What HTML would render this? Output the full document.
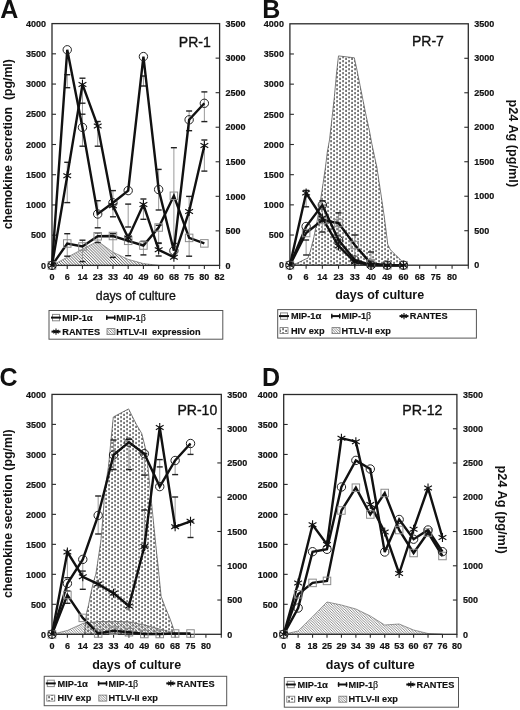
<!DOCTYPE html><html><head><meta charset="utf-8"><style>html,body{margin:0;padding:0;background:#fff;}svg{display:block;font-family:"Liberation Sans", sans-serif;filter:grayscale(1);}</style></head><body>
<svg width="520" height="710" viewBox="0 0 520 710">
<defs><pattern id="hatch" width="2.6" height="2.6" patternUnits="userSpaceOnUse"><path d="M-1,-1L3.6,3.6M-1,1.6L1,3.6M1.6,-1L3.6,1" stroke="#666" stroke-width="0.75" fill="none"/></pattern><pattern id="hatchA" width="2.9" height="2.9" patternUnits="userSpaceOnUse"><path d="M-1,-1L3.9,3.9M-1,1.9L1,3.9M1.9,-1L3.9,1" stroke="#444" stroke-width="0.85" fill="none"/></pattern><pattern id="dots" width="6" height="4" patternUnits="userSpaceOnUse"><rect x="0.4" y="0.1" width="1.3" height="2.2" fill="#3a3a3a"/><rect x="3.4" y="1.8" width="1.3" height="2.2" fill="#3a3a3a"/></pattern></defs>
<rect width="520" height="710" fill="#fff"/>
<polygon points="52,265.4 52,265.4 67.24,257.3 82.47,249.2 97.71,241.2 112.95,252.2 128.18,259.4 143.42,263.6 158.65,265.4 158.65,265.4" fill="url(#hatchA)" stroke="#555" stroke-width="0.6"/>
<line x1="67.24" y1="74.7" x2="67.24" y2="87.7" stroke="#9a9a9a" stroke-width="1"/>
<line x1="64.24" y1="74.7" x2="70.24" y2="74.7" stroke="#222" stroke-width="1.4"/>
<line x1="64.24" y1="87.7" x2="70.24" y2="87.7" stroke="#222" stroke-width="1.4"/>
<line x1="67.24" y1="162.3" x2="67.24" y2="202.6" stroke="#9a9a9a" stroke-width="1"/>
<line x1="64.24" y1="162.3" x2="70.24" y2="162.3" stroke="#222" stroke-width="1.4"/>
<line x1="64.24" y1="202.6" x2="70.24" y2="202.6" stroke="#222" stroke-width="1.4"/>
<line x1="67.24" y1="233.7" x2="67.24" y2="256.2" stroke="#9a9a9a" stroke-width="1"/>
<line x1="64.24" y1="233.7" x2="70.24" y2="233.7" stroke="#222" stroke-width="1.4"/>
<line x1="64.24" y1="256.2" x2="70.24" y2="256.2" stroke="#222" stroke-width="1.4"/>
<line x1="82.47" y1="78.2" x2="82.47" y2="146.2" stroke="#9a9a9a" stroke-width="1"/>
<line x1="79.47" y1="78.2" x2="85.47" y2="78.2" stroke="#222" stroke-width="1.4"/>
<line x1="79.47" y1="103.2" x2="85.47" y2="103.2" stroke="#222" stroke-width="1.4"/>
<line x1="79.47" y1="114.2" x2="85.47" y2="114.2" stroke="#222" stroke-width="1.4"/>
<line x1="79.47" y1="146.2" x2="85.47" y2="146.2" stroke="#222" stroke-width="1.4"/>
<line x1="82.47" y1="240.2" x2="82.47" y2="261.6" stroke="#9a9a9a" stroke-width="1"/>
<line x1="79.47" y1="240.2" x2="85.47" y2="240.2" stroke="#222" stroke-width="1.4"/>
<line x1="79.47" y1="261.6" x2="85.47" y2="261.6" stroke="#222" stroke-width="1.4"/>
<line x1="97.71" y1="121.5" x2="97.71" y2="146.2" stroke="#9a9a9a" stroke-width="1"/>
<line x1="94.71" y1="121.5" x2="100.71" y2="121.5" stroke="#222" stroke-width="1.4"/>
<line x1="94.71" y1="146.2" x2="100.71" y2="146.2" stroke="#222" stroke-width="1.4"/>
<line x1="97.71" y1="200.7" x2="97.71" y2="227.8" stroke="#9a9a9a" stroke-width="1"/>
<line x1="94.71" y1="200.7" x2="100.71" y2="200.7" stroke="#222" stroke-width="1.4"/>
<line x1="94.71" y1="227.8" x2="100.71" y2="227.8" stroke="#222" stroke-width="1.4"/>
<line x1="97.71" y1="232.9" x2="97.71" y2="242.5" stroke="#9a9a9a" stroke-width="1"/>
<line x1="94.71" y1="232.9" x2="100.71" y2="232.9" stroke="#222" stroke-width="1.4"/>
<line x1="94.71" y1="242.5" x2="100.71" y2="242.5" stroke="#222" stroke-width="1.4"/>
<line x1="112.95" y1="190.6" x2="112.95" y2="216.8" stroke="#9a9a9a" stroke-width="1"/>
<line x1="109.95" y1="190.6" x2="115.95" y2="190.6" stroke="#222" stroke-width="1.4"/>
<line x1="109.95" y1="216.8" x2="115.95" y2="216.8" stroke="#222" stroke-width="1.4"/>
<line x1="112.95" y1="233.7" x2="112.95" y2="257.4" stroke="#9a9a9a" stroke-width="1"/>
<line x1="109.95" y1="233.7" x2="115.95" y2="233.7" stroke="#222" stroke-width="1.4"/>
<line x1="109.95" y1="257.4" x2="115.95" y2="257.4" stroke="#222" stroke-width="1.4"/>
<line x1="128.18" y1="204.1" x2="128.18" y2="227" stroke="#9a9a9a" stroke-width="1"/>
<line x1="125.18" y1="204.1" x2="131.18" y2="204.1" stroke="#222" stroke-width="1.4"/>
<line x1="125.18" y1="227" x2="131.18" y2="227" stroke="#222" stroke-width="1.4"/>
<line x1="128.18" y1="238" x2="128.18" y2="255.7" stroke="#9a9a9a" stroke-width="1"/>
<line x1="125.18" y1="238" x2="131.18" y2="238" stroke="#222" stroke-width="1.4"/>
<line x1="125.18" y1="255.7" x2="131.18" y2="255.7" stroke="#222" stroke-width="1.4"/>
<line x1="143.42" y1="76" x2="143.42" y2="86" stroke="#9a9a9a" stroke-width="1"/>
<line x1="140.42" y1="76" x2="146.42" y2="76" stroke="#222" stroke-width="1.4"/>
<line x1="140.42" y1="86" x2="146.42" y2="86" stroke="#222" stroke-width="1.4"/>
<line x1="143.42" y1="199" x2="143.42" y2="219.3" stroke="#9a9a9a" stroke-width="1"/>
<line x1="140.42" y1="199" x2="146.42" y2="199" stroke="#222" stroke-width="1.4"/>
<line x1="140.42" y1="219.3" x2="146.42" y2="219.3" stroke="#222" stroke-width="1.4"/>
<line x1="143.42" y1="241.3" x2="143.42" y2="254.9" stroke="#9a9a9a" stroke-width="1"/>
<line x1="140.42" y1="241.3" x2="146.42" y2="241.3" stroke="#222" stroke-width="1.4"/>
<line x1="140.42" y1="254.9" x2="146.42" y2="254.9" stroke="#222" stroke-width="1.4"/>
<line x1="158.65" y1="169.4" x2="158.65" y2="210" stroke="#9a9a9a" stroke-width="1"/>
<line x1="155.65" y1="169.4" x2="161.65" y2="169.4" stroke="#222" stroke-width="1.4"/>
<line x1="155.65" y1="210" x2="161.65" y2="210" stroke="#222" stroke-width="1.4"/>
<line x1="158.65" y1="225.3" x2="158.65" y2="243" stroke="#9a9a9a" stroke-width="1"/>
<line x1="155.65" y1="225.3" x2="161.65" y2="225.3" stroke="#222" stroke-width="1.4"/>
<line x1="155.65" y1="243" x2="161.65" y2="243" stroke="#222" stroke-width="1.4"/>
<line x1="158.65" y1="243.4" x2="158.65" y2="256" stroke="#9a9a9a" stroke-width="1"/>
<line x1="155.65" y1="243.4" x2="161.65" y2="243.4" stroke="#222" stroke-width="1.4"/>
<line x1="155.65" y1="256" x2="161.65" y2="256" stroke="#222" stroke-width="1.4"/>
<line x1="173.89" y1="147.7" x2="173.89" y2="243.4" stroke="#9a9a9a" stroke-width="1"/>
<line x1="170.89" y1="147.7" x2="176.89" y2="147.7" stroke="#222" stroke-width="1.4"/>
<line x1="170.89" y1="243.4" x2="176.89" y2="243.4" stroke="#222" stroke-width="1.4"/>
<line x1="189.13" y1="111" x2="189.13" y2="130.7" stroke="#9a9a9a" stroke-width="1"/>
<line x1="186.13" y1="111" x2="192.13" y2="111" stroke="#222" stroke-width="1.4"/>
<line x1="186.13" y1="130.7" x2="192.13" y2="130.7" stroke="#222" stroke-width="1.4"/>
<line x1="189.13" y1="196.4" x2="189.13" y2="256.2" stroke="#9a9a9a" stroke-width="1"/>
<line x1="186.13" y1="196.4" x2="192.13" y2="196.4" stroke="#222" stroke-width="1.4"/>
<line x1="186.13" y1="256.2" x2="192.13" y2="256.2" stroke="#222" stroke-width="1.4"/>
<line x1="204.36" y1="91.9" x2="204.36" y2="121.6" stroke="#9a9a9a" stroke-width="1"/>
<line x1="201.36" y1="91.9" x2="207.36" y2="91.9" stroke="#222" stroke-width="1.4"/>
<line x1="201.36" y1="121.6" x2="207.36" y2="121.6" stroke="#222" stroke-width="1.4"/>
<line x1="204.36" y1="140" x2="204.36" y2="171.1" stroke="#9a9a9a" stroke-width="1"/>
<line x1="201.36" y1="140" x2="207.36" y2="140" stroke="#222" stroke-width="1.4"/>
<line x1="201.36" y1="171.1" x2="207.36" y2="171.1" stroke="#222" stroke-width="1.4"/>
<rect x="52" y="23.6" width="167.6" height="241.8" fill="none" stroke="#2a2a2a" stroke-width="1.3"/>
<line x1="52" y1="235.17" x2="56" y2="235.17" stroke="#2a2a2a" stroke-width="1.1"/>
<line x1="52" y1="204.95" x2="56" y2="204.95" stroke="#2a2a2a" stroke-width="1.1"/>
<line x1="52" y1="174.72" x2="56" y2="174.72" stroke="#2a2a2a" stroke-width="1.1"/>
<line x1="52" y1="144.5" x2="56" y2="144.5" stroke="#2a2a2a" stroke-width="1.1"/>
<line x1="52" y1="114.27" x2="56" y2="114.27" stroke="#2a2a2a" stroke-width="1.1"/>
<line x1="52" y1="84.05" x2="56" y2="84.05" stroke="#2a2a2a" stroke-width="1.1"/>
<line x1="52" y1="53.82" x2="56" y2="53.82" stroke="#2a2a2a" stroke-width="1.1"/>
<line x1="215.6" y1="230.86" x2="219.6" y2="230.86" stroke="#2a2a2a" stroke-width="1.1"/>
<line x1="215.6" y1="196.31" x2="219.6" y2="196.31" stroke="#2a2a2a" stroke-width="1.1"/>
<line x1="215.6" y1="161.77" x2="219.6" y2="161.77" stroke="#2a2a2a" stroke-width="1.1"/>
<line x1="215.6" y1="127.23" x2="219.6" y2="127.23" stroke="#2a2a2a" stroke-width="1.1"/>
<line x1="215.6" y1="92.69" x2="219.6" y2="92.69" stroke="#2a2a2a" stroke-width="1.1"/>
<line x1="215.6" y1="58.14" x2="219.6" y2="58.14" stroke="#2a2a2a" stroke-width="1.1"/>
<line x1="67.24" y1="265.4" x2="67.24" y2="268.9" stroke="#2a2a2a" stroke-width="1.1"/>
<line x1="82.47" y1="265.4" x2="82.47" y2="268.9" stroke="#2a2a2a" stroke-width="1.1"/>
<line x1="97.71" y1="265.4" x2="97.71" y2="268.9" stroke="#2a2a2a" stroke-width="1.1"/>
<line x1="112.95" y1="265.4" x2="112.95" y2="268.9" stroke="#2a2a2a" stroke-width="1.1"/>
<line x1="128.18" y1="265.4" x2="128.18" y2="268.9" stroke="#2a2a2a" stroke-width="1.1"/>
<line x1="143.42" y1="265.4" x2="143.42" y2="268.9" stroke="#2a2a2a" stroke-width="1.1"/>
<line x1="158.65" y1="265.4" x2="158.65" y2="268.9" stroke="#2a2a2a" stroke-width="1.1"/>
<line x1="173.89" y1="265.4" x2="173.89" y2="268.9" stroke="#2a2a2a" stroke-width="1.1"/>
<line x1="189.13" y1="265.4" x2="189.13" y2="268.9" stroke="#2a2a2a" stroke-width="1.1"/>
<line x1="204.36" y1="265.4" x2="204.36" y2="268.9" stroke="#2a2a2a" stroke-width="1.1"/>
<line x1="219.6" y1="265.4" x2="219.6" y2="268.9" stroke="#2a2a2a" stroke-width="1.1"/>
<polyline points="52,265.4 67.24,243.5 82.47,246.5 97.71,236.3 112.95,236 128.18,240.8 143.42,245.5 158.65,227.5 173.89,195.8 189.13,237.9 204.36,243.4" fill="none" stroke="#111" stroke-width="2.4" stroke-linejoin="miter" stroke-miterlimit="3"/>
<polyline points="52,265.4 67.24,49.8 82.47,127.4 97.71,214 112.95,202.8 128.18,190.6 143.42,56.6 158.65,189.5 173.89,250.7 189.13,119.8 204.36,103.3" fill="none" stroke="#111" stroke-width="2.4" stroke-linejoin="miter" stroke-miterlimit="3"/>
<polyline points="52,265.4 67.24,175.7 82.47,84.4 97.71,126.1 112.95,205.8 128.18,238 143.42,204.5 158.65,249.8 173.89,257.2 189.13,211.4 204.36,145.5" fill="none" stroke="#111" stroke-width="2.4" stroke-linejoin="miter" stroke-miterlimit="3"/>
<rect x="48.25" y="261.65" width="7.5" height="7.5" fill="none" stroke="#8a8a8a" stroke-width="1"/>
<rect x="63.49" y="239.75" width="7.5" height="7.5" fill="none" stroke="#8a8a8a" stroke-width="1"/>
<rect x="78.72" y="242.75" width="7.5" height="7.5" fill="none" stroke="#8a8a8a" stroke-width="1"/>
<rect x="93.96" y="232.55" width="7.5" height="7.5" fill="none" stroke="#8a8a8a" stroke-width="1"/>
<rect x="109.2" y="232.25" width="7.5" height="7.5" fill="none" stroke="#8a8a8a" stroke-width="1"/>
<rect x="124.43" y="237.05" width="7.5" height="7.5" fill="none" stroke="#8a8a8a" stroke-width="1"/>
<rect x="139.67" y="241.75" width="7.5" height="7.5" fill="none" stroke="#8a8a8a" stroke-width="1"/>
<rect x="154.9" y="223.75" width="7.5" height="7.5" fill="none" stroke="#8a8a8a" stroke-width="1"/>
<rect x="170.14" y="192.05" width="7.5" height="7.5" fill="none" stroke="#8a8a8a" stroke-width="1"/>
<rect x="185.38" y="234.15" width="7.5" height="7.5" fill="none" stroke="#8a8a8a" stroke-width="1"/>
<rect x="200.61" y="239.65" width="7.5" height="7.5" fill="none" stroke="#8a8a8a" stroke-width="1"/>
<circle cx="52" cy="265.4" r="4.2" fill="none" stroke="#222" stroke-width="1"/>
<circle cx="67.24" cy="49.8" r="4.2" fill="none" stroke="#222" stroke-width="1"/>
<circle cx="82.47" cy="127.4" r="4.2" fill="none" stroke="#222" stroke-width="1"/>
<circle cx="97.71" cy="214" r="4.2" fill="none" stroke="#222" stroke-width="1"/>
<circle cx="112.95" cy="202.8" r="4.2" fill="none" stroke="#222" stroke-width="1"/>
<circle cx="128.18" cy="190.6" r="4.2" fill="none" stroke="#222" stroke-width="1"/>
<circle cx="143.42" cy="56.6" r="4.2" fill="none" stroke="#222" stroke-width="1"/>
<circle cx="158.65" cy="189.5" r="4.2" fill="none" stroke="#222" stroke-width="1"/>
<circle cx="173.89" cy="250.7" r="4.2" fill="none" stroke="#222" stroke-width="1"/>
<circle cx="189.13" cy="119.8" r="4.2" fill="none" stroke="#222" stroke-width="1"/>
<circle cx="204.36" cy="103.3" r="4.2" fill="none" stroke="#222" stroke-width="1"/>
<path d="M52,260.9V269.9M48.1,263.15L55.9,267.65M48.1,267.65L55.9,263.15" stroke="#111" stroke-width="1.1" fill="none"/>
<path d="M67.24,171.2V180.2M63.34,173.45L71.13,177.95M63.34,177.95L71.13,173.45" stroke="#111" stroke-width="1.1" fill="none"/>
<path d="M82.47,79.9V88.9M78.58,82.15L86.37,86.65M78.58,86.65L86.37,82.15" stroke="#111" stroke-width="1.1" fill="none"/>
<path d="M97.71,121.6V130.6M93.81,123.85L101.61,128.35M93.81,128.35L101.61,123.85" stroke="#111" stroke-width="1.1" fill="none"/>
<path d="M112.95,201.3V210.3M109.05,203.55L116.84,208.05M109.05,208.05L116.84,203.55" stroke="#111" stroke-width="1.1" fill="none"/>
<path d="M128.18,233.5V242.5M124.28,235.75L132.08,240.25M124.28,240.25L132.08,235.75" stroke="#111" stroke-width="1.1" fill="none"/>
<path d="M143.42,200V209M139.52,202.25L147.32,206.75M139.52,206.75L147.32,202.25" stroke="#111" stroke-width="1.1" fill="none"/>
<path d="M158.65,245.3V254.3M154.76,247.55L162.55,252.05M154.76,252.05L162.55,247.55" stroke="#111" stroke-width="1.1" fill="none"/>
<path d="M173.89,252.7V261.7M169.99,254.95L177.79,259.45M169.99,259.45L177.79,254.95" stroke="#111" stroke-width="1.1" fill="none"/>
<path d="M189.13,206.9V215.9M185.23,209.15L193.02,213.65M185.23,213.65L193.02,209.15" stroke="#111" stroke-width="1.1" fill="none"/>
<path d="M204.36,141V150M200.47,143.25L208.26,147.75M200.47,147.75L208.26,143.25" stroke="#111" stroke-width="1.1" fill="none"/>
<text x="46" y="268.6" font-size="9" font-weight="bold" text-anchor="end" fill="#111" stroke="#111" stroke-width="0.2">0</text>
<text x="46" y="238.37" font-size="9" font-weight="bold" text-anchor="end" fill="#111" stroke="#111" stroke-width="0.2">500</text>
<text x="46" y="208.15" font-size="9" font-weight="bold" text-anchor="end" fill="#111" stroke="#111" stroke-width="0.2">1000</text>
<text x="46" y="177.92" font-size="9" font-weight="bold" text-anchor="end" fill="#111" stroke="#111" stroke-width="0.2">1500</text>
<text x="46" y="147.7" font-size="9" font-weight="bold" text-anchor="end" fill="#111" stroke="#111" stroke-width="0.2">2000</text>
<text x="46" y="117.47" font-size="9" font-weight="bold" text-anchor="end" fill="#111" stroke="#111" stroke-width="0.2">2500</text>
<text x="46" y="87.25" font-size="9" font-weight="bold" text-anchor="end" fill="#111" stroke="#111" stroke-width="0.2">3000</text>
<text x="46" y="57.02" font-size="9" font-weight="bold" text-anchor="end" fill="#111" stroke="#111" stroke-width="0.2">3500</text>
<text x="46" y="26.8" font-size="9" font-weight="bold" text-anchor="end" fill="#111" stroke="#111" stroke-width="0.2">4000</text>
<text x="225.6" y="268.6" font-size="9" font-weight="bold" text-anchor="start" fill="#111" stroke="#111" stroke-width="0.2">0</text>
<text x="225.6" y="234.06" font-size="9" font-weight="bold" text-anchor="start" fill="#111" stroke="#111" stroke-width="0.2">500</text>
<text x="225.6" y="199.51" font-size="9" font-weight="bold" text-anchor="start" fill="#111" stroke="#111" stroke-width="0.2">1000</text>
<text x="225.6" y="164.97" font-size="9" font-weight="bold" text-anchor="start" fill="#111" stroke="#111" stroke-width="0.2">1500</text>
<text x="225.6" y="130.43" font-size="9" font-weight="bold" text-anchor="start" fill="#111" stroke="#111" stroke-width="0.2">2000</text>
<text x="225.6" y="95.89" font-size="9" font-weight="bold" text-anchor="start" fill="#111" stroke="#111" stroke-width="0.2">2500</text>
<text x="225.6" y="61.34" font-size="9" font-weight="bold" text-anchor="start" fill="#111" stroke="#111" stroke-width="0.2">3000</text>
<text x="225.6" y="26.8" font-size="9" font-weight="bold" text-anchor="start" fill="#111" stroke="#111" stroke-width="0.2">3500</text>
<text x="52" y="279.9" font-size="9" font-weight="bold" text-anchor="middle" fill="#111" stroke="#111" stroke-width="0.2">0</text>
<text x="67.24" y="279.9" font-size="9" font-weight="bold" text-anchor="middle" fill="#111" stroke="#111" stroke-width="0.2">6</text>
<text x="82.47" y="279.9" font-size="9" font-weight="bold" text-anchor="middle" fill="#111" stroke="#111" stroke-width="0.2">14</text>
<text x="97.71" y="279.9" font-size="9" font-weight="bold" text-anchor="middle" fill="#111" stroke="#111" stroke-width="0.2">23</text>
<text x="112.95" y="279.9" font-size="9" font-weight="bold" text-anchor="middle" fill="#111" stroke="#111" stroke-width="0.2">33</text>
<text x="128.18" y="279.9" font-size="9" font-weight="bold" text-anchor="middle" fill="#111" stroke="#111" stroke-width="0.2">40</text>
<text x="143.42" y="279.9" font-size="9" font-weight="bold" text-anchor="middle" fill="#111" stroke="#111" stroke-width="0.2">49</text>
<text x="158.65" y="279.9" font-size="9" font-weight="bold" text-anchor="middle" fill="#111" stroke="#111" stroke-width="0.2">60</text>
<text x="173.89" y="279.9" font-size="9" font-weight="bold" text-anchor="middle" fill="#111" stroke="#111" stroke-width="0.2">68</text>
<text x="189.13" y="279.9" font-size="9" font-weight="bold" text-anchor="middle" fill="#111" stroke="#111" stroke-width="0.2">75</text>
<text x="204.36" y="279.9" font-size="9" font-weight="bold" text-anchor="middle" fill="#111" stroke="#111" stroke-width="0.2">80</text>
<text x="219.6" y="279.9" font-size="9" font-weight="bold" text-anchor="middle" fill="#111" stroke="#111" stroke-width="0.2">82</text>
<polygon points="290,265.2 296.8,263.3 306.2,258.8 307.8,258.3 310.3,251.5 313.7,238 317.1,221.1 320.5,200.8 323,183.8 325.5,166.9 327.3,152 329.5,140 331.8,119.8 334.4,96.6 336.5,73.3 338.5,55.9 354.3,57.8 357,70.2 360.1,85.7 363.2,101.2 366.3,116.7 369.4,130.7 371.7,143.1 374.2,155 376.8,166.9 379.4,183.8 381.9,200.7 384.4,217.6 386.1,231.1 387.8,244.6 390.3,249.7 395.4,254.7 400.5,259.8 405.5,264.9 406,265.2" fill="url(#dots)" stroke="#444" stroke-width="0.7"/>
<line x1="306.12" y1="190.4" x2="306.12" y2="206.8" stroke="#9a9a9a" stroke-width="1"/>
<line x1="303.12" y1="190.4" x2="309.12" y2="190.4" stroke="#222" stroke-width="1.4"/>
<line x1="303.12" y1="206.8" x2="309.12" y2="206.8" stroke="#222" stroke-width="1.4"/>
<line x1="306.12" y1="240" x2="306.12" y2="255" stroke="#9a9a9a" stroke-width="1"/>
<line x1="303.12" y1="240" x2="309.12" y2="240" stroke="#222" stroke-width="1.4"/>
<line x1="303.12" y1="255" x2="309.12" y2="255" stroke="#222" stroke-width="1.4"/>
<line x1="322.34" y1="200.8" x2="322.34" y2="232" stroke="#9a9a9a" stroke-width="1"/>
<line x1="319.34" y1="200.8" x2="325.34" y2="200.8" stroke="#222" stroke-width="1.4"/>
<line x1="319.34" y1="232" x2="325.34" y2="232" stroke="#222" stroke-width="1.4"/>
<line x1="338.55" y1="212.9" x2="338.55" y2="240" stroke="#9a9a9a" stroke-width="1"/>
<line x1="335.55" y1="212.9" x2="341.55" y2="212.9" stroke="#222" stroke-width="1.4"/>
<line x1="335.55" y1="240" x2="341.55" y2="240" stroke="#222" stroke-width="1.4"/>
<line x1="354.77" y1="235" x2="354.77" y2="262" stroke="#9a9a9a" stroke-width="1"/>
<line x1="351.77" y1="235" x2="357.77" y2="235" stroke="#222" stroke-width="1.4"/>
<line x1="351.77" y1="262" x2="357.77" y2="262" stroke="#222" stroke-width="1.4"/>
<line x1="370.99" y1="252" x2="370.99" y2="265" stroke="#9a9a9a" stroke-width="1"/>
<line x1="367.99" y1="252" x2="373.99" y2="252" stroke="#222" stroke-width="1.4"/>
<line x1="367.99" y1="265" x2="373.99" y2="265" stroke="#222" stroke-width="1.4"/>
<rect x="289.9" y="23.8" width="178.4" height="241.4" fill="none" stroke="#2a2a2a" stroke-width="1.3"/>
<line x1="289.9" y1="235.02" x2="293.9" y2="235.02" stroke="#2a2a2a" stroke-width="1.1"/>
<line x1="289.9" y1="204.85" x2="293.9" y2="204.85" stroke="#2a2a2a" stroke-width="1.1"/>
<line x1="289.9" y1="174.68" x2="293.9" y2="174.68" stroke="#2a2a2a" stroke-width="1.1"/>
<line x1="289.9" y1="144.5" x2="293.9" y2="144.5" stroke="#2a2a2a" stroke-width="1.1"/>
<line x1="289.9" y1="114.32" x2="293.9" y2="114.32" stroke="#2a2a2a" stroke-width="1.1"/>
<line x1="289.9" y1="84.15" x2="293.9" y2="84.15" stroke="#2a2a2a" stroke-width="1.1"/>
<line x1="289.9" y1="53.98" x2="293.9" y2="53.98" stroke="#2a2a2a" stroke-width="1.1"/>
<line x1="464.3" y1="230.71" x2="468.3" y2="230.71" stroke="#2a2a2a" stroke-width="1.1"/>
<line x1="464.3" y1="196.23" x2="468.3" y2="196.23" stroke="#2a2a2a" stroke-width="1.1"/>
<line x1="464.3" y1="161.74" x2="468.3" y2="161.74" stroke="#2a2a2a" stroke-width="1.1"/>
<line x1="464.3" y1="127.26" x2="468.3" y2="127.26" stroke="#2a2a2a" stroke-width="1.1"/>
<line x1="464.3" y1="92.77" x2="468.3" y2="92.77" stroke="#2a2a2a" stroke-width="1.1"/>
<line x1="464.3" y1="58.29" x2="468.3" y2="58.29" stroke="#2a2a2a" stroke-width="1.1"/>
<line x1="306.12" y1="265.2" x2="306.12" y2="268.7" stroke="#2a2a2a" stroke-width="1.1"/>
<line x1="322.34" y1="265.2" x2="322.34" y2="268.7" stroke="#2a2a2a" stroke-width="1.1"/>
<line x1="338.55" y1="265.2" x2="338.55" y2="268.7" stroke="#2a2a2a" stroke-width="1.1"/>
<line x1="354.77" y1="265.2" x2="354.77" y2="268.7" stroke="#2a2a2a" stroke-width="1.1"/>
<line x1="370.99" y1="265.2" x2="370.99" y2="268.7" stroke="#2a2a2a" stroke-width="1.1"/>
<line x1="387.21" y1="265.2" x2="387.21" y2="268.7" stroke="#2a2a2a" stroke-width="1.1"/>
<line x1="403.43" y1="265.2" x2="403.43" y2="268.7" stroke="#2a2a2a" stroke-width="1.1"/>
<line x1="419.65" y1="265.2" x2="419.65" y2="268.7" stroke="#2a2a2a" stroke-width="1.1"/>
<line x1="435.86" y1="265.2" x2="435.86" y2="268.7" stroke="#2a2a2a" stroke-width="1.1"/>
<line x1="452.08" y1="265.2" x2="452.08" y2="268.7" stroke="#2a2a2a" stroke-width="1.1"/>
<line x1="468.3" y1="265.2" x2="468.3" y2="268.7" stroke="#2a2a2a" stroke-width="1.1"/>
<polyline points="289.9,265.2 306.12,233 322.34,220 338.55,223 354.77,245 370.99,263.5 387.21,265.2 403.43,265.2" fill="none" stroke="#111" stroke-width="2.4" stroke-linejoin="miter" stroke-miterlimit="3"/>
<polyline points="289.9,265.2 306.12,226.5 322.34,205 338.55,240 354.77,260 370.99,265.2 387.21,265.2 403.43,265.2" fill="none" stroke="#111" stroke-width="2.4" stroke-linejoin="miter" stroke-miterlimit="3"/>
<polyline points="289.9,265.2 306.12,193 322.34,218 338.55,246 354.77,262 370.99,265.2 387.21,265.2 403.43,265.2" fill="none" stroke="#111" stroke-width="2.4" stroke-linejoin="miter" stroke-miterlimit="3"/>
<rect x="286.15" y="261.45" width="7.5" height="7.5" fill="none" stroke="#8a8a8a" stroke-width="1"/>
<rect x="302.37" y="229.25" width="7.5" height="7.5" fill="none" stroke="#8a8a8a" stroke-width="1"/>
<rect x="318.59" y="216.25" width="7.5" height="7.5" fill="none" stroke="#8a8a8a" stroke-width="1"/>
<rect x="334.8" y="219.25" width="7.5" height="7.5" fill="none" stroke="#8a8a8a" stroke-width="1"/>
<rect x="351.02" y="241.25" width="7.5" height="7.5" fill="none" stroke="#8a8a8a" stroke-width="1"/>
<rect x="367.24" y="259.75" width="7.5" height="7.5" fill="none" stroke="#8a8a8a" stroke-width="1"/>
<rect x="383.46" y="261.45" width="7.5" height="7.5" fill="none" stroke="#8a8a8a" stroke-width="1"/>
<rect x="399.68" y="261.45" width="7.5" height="7.5" fill="none" stroke="#8a8a8a" stroke-width="1"/>
<circle cx="289.9" cy="265.2" r="4.2" fill="none" stroke="#222" stroke-width="1"/>
<circle cx="306.12" cy="226.5" r="4.2" fill="none" stroke="#222" stroke-width="1"/>
<circle cx="322.34" cy="205" r="4.2" fill="none" stroke="#222" stroke-width="1"/>
<circle cx="338.55" cy="240" r="4.2" fill="none" stroke="#222" stroke-width="1"/>
<circle cx="354.77" cy="260" r="4.2" fill="none" stroke="#222" stroke-width="1"/>
<circle cx="370.99" cy="265.2" r="4.2" fill="none" stroke="#222" stroke-width="1"/>
<circle cx="387.21" cy="265.2" r="4.2" fill="none" stroke="#222" stroke-width="1"/>
<circle cx="403.43" cy="265.2" r="4.2" fill="none" stroke="#222" stroke-width="1"/>
<path d="M289.9,260.7V269.7M286,262.95L293.8,267.45M286,267.45L293.8,262.95" stroke="#111" stroke-width="1.1" fill="none"/>
<path d="M306.12,188.5V197.5M302.22,190.75L310.02,195.25M302.22,195.25L310.02,190.75" stroke="#111" stroke-width="1.1" fill="none"/>
<path d="M322.34,213.5V222.5M318.44,215.75L326.23,220.25M318.44,220.25L326.23,215.75" stroke="#111" stroke-width="1.1" fill="none"/>
<path d="M338.55,241.5V250.5M334.66,243.75L342.45,248.25M334.66,248.25L342.45,243.75" stroke="#111" stroke-width="1.1" fill="none"/>
<path d="M354.77,257.5V266.5M350.88,259.75L358.67,264.25M350.88,264.25L358.67,259.75" stroke="#111" stroke-width="1.1" fill="none"/>
<path d="M370.99,260.7V269.7M367.09,262.95L374.89,267.45M367.09,267.45L374.89,262.95" stroke="#111" stroke-width="1.1" fill="none"/>
<path d="M387.21,260.7V269.7M383.31,262.95L391.11,267.45M383.31,267.45L391.11,262.95" stroke="#111" stroke-width="1.1" fill="none"/>
<path d="M403.43,260.7V269.7M399.53,262.95L407.32,267.45M399.53,267.45L407.32,262.95" stroke="#111" stroke-width="1.1" fill="none"/>
<text x="283.9" y="268.4" font-size="9" font-weight="bold" text-anchor="end" fill="#111" stroke="#111" stroke-width="0.2">0</text>
<text x="283.9" y="238.22" font-size="9" font-weight="bold" text-anchor="end" fill="#111" stroke="#111" stroke-width="0.2">500</text>
<text x="283.9" y="208.05" font-size="9" font-weight="bold" text-anchor="end" fill="#111" stroke="#111" stroke-width="0.2">1000</text>
<text x="283.9" y="177.88" font-size="9" font-weight="bold" text-anchor="end" fill="#111" stroke="#111" stroke-width="0.2">1500</text>
<text x="283.9" y="147.7" font-size="9" font-weight="bold" text-anchor="end" fill="#111" stroke="#111" stroke-width="0.2">2000</text>
<text x="283.9" y="117.52" font-size="9" font-weight="bold" text-anchor="end" fill="#111" stroke="#111" stroke-width="0.2">2500</text>
<text x="283.9" y="87.35" font-size="9" font-weight="bold" text-anchor="end" fill="#111" stroke="#111" stroke-width="0.2">3000</text>
<text x="283.9" y="57.18" font-size="9" font-weight="bold" text-anchor="end" fill="#111" stroke="#111" stroke-width="0.2">3500</text>
<text x="283.9" y="27" font-size="9" font-weight="bold" text-anchor="end" fill="#111" stroke="#111" stroke-width="0.2">4000</text>
<text x="474.3" y="268.4" font-size="9" font-weight="bold" text-anchor="start" fill="#111" stroke="#111" stroke-width="0.2">0</text>
<text x="474.3" y="233.91" font-size="9" font-weight="bold" text-anchor="start" fill="#111" stroke="#111" stroke-width="0.2">500</text>
<text x="474.3" y="199.43" font-size="9" font-weight="bold" text-anchor="start" fill="#111" stroke="#111" stroke-width="0.2">1000</text>
<text x="474.3" y="164.94" font-size="9" font-weight="bold" text-anchor="start" fill="#111" stroke="#111" stroke-width="0.2">1500</text>
<text x="474.3" y="130.46" font-size="9" font-weight="bold" text-anchor="start" fill="#111" stroke="#111" stroke-width="0.2">2000</text>
<text x="474.3" y="95.97" font-size="9" font-weight="bold" text-anchor="start" fill="#111" stroke="#111" stroke-width="0.2">2500</text>
<text x="474.3" y="61.49" font-size="9" font-weight="bold" text-anchor="start" fill="#111" stroke="#111" stroke-width="0.2">3000</text>
<text x="474.3" y="27" font-size="9" font-weight="bold" text-anchor="start" fill="#111" stroke="#111" stroke-width="0.2">3500</text>
<text x="289.9" y="279.7" font-size="9" font-weight="bold" text-anchor="middle" fill="#111" stroke="#111" stroke-width="0.2">0</text>
<text x="306.12" y="279.7" font-size="9" font-weight="bold" text-anchor="middle" fill="#111" stroke="#111" stroke-width="0.2">6</text>
<text x="322.34" y="279.7" font-size="9" font-weight="bold" text-anchor="middle" fill="#111" stroke="#111" stroke-width="0.2">14</text>
<text x="338.55" y="279.7" font-size="9" font-weight="bold" text-anchor="middle" fill="#111" stroke="#111" stroke-width="0.2">23</text>
<text x="354.77" y="279.7" font-size="9" font-weight="bold" text-anchor="middle" fill="#111" stroke="#111" stroke-width="0.2">33</text>
<text x="370.99" y="279.7" font-size="9" font-weight="bold" text-anchor="middle" fill="#111" stroke="#111" stroke-width="0.2">40</text>
<text x="387.21" y="279.7" font-size="9" font-weight="bold" text-anchor="middle" fill="#111" stroke="#111" stroke-width="0.2">49</text>
<text x="403.43" y="279.7" font-size="9" font-weight="bold" text-anchor="middle" fill="#111" stroke="#111" stroke-width="0.2">60</text>
<text x="419.65" y="279.7" font-size="9" font-weight="bold" text-anchor="middle" fill="#111" stroke="#111" stroke-width="0.2">68</text>
<text x="435.86" y="279.7" font-size="9" font-weight="bold" text-anchor="middle" fill="#111" stroke="#111" stroke-width="0.2">75</text>
<text x="452.08" y="279.7" font-size="9" font-weight="bold" text-anchor="middle" fill="#111" stroke="#111" stroke-width="0.2">80</text>
<polygon points="84.5,634.3 85.5,620.4 86.6,612.6 88.6,604.9 90.1,597.1 91.7,589.4 93.6,581.6 95.9,573.9 97.5,563.4 99.1,552.8 100.7,542.3 101.7,531.7 102.8,519 103.8,505.3 104.2,494.5 106.3,480.4 108.4,467 109.2,459.3 110.5,445.2 111.9,431.1 113.3,417 128.6,408.9 132.5,416.8 136.5,424.7 141.7,433.4 145.1,446.9 147.6,463.7 149.3,480.6 151,497.4 152.7,514.3 154.4,531.1 156.1,548 158.3,568.1 159.7,582.2 161.1,596.3 165.3,607.5 169.5,617.4 173,627.2 174.5,632.8 175.3,634.3" fill="url(#dots)" stroke="#444" stroke-width="0.7"/>
<polygon points="52,634.3 52,634.3 67.39,630.5 82.78,623.5 98.17,621.6 113.56,621.4 128.95,621.8 144.35,625 159.74,629 175.13,633 190.52,634.3 190.52,634.3" fill="url(#hatch)" stroke="#555" stroke-width="0.6"/>
<line x1="67.39" y1="552" x2="67.39" y2="577.7" stroke="#9a9a9a" stroke-width="1"/>
<line x1="64.39" y1="577.7" x2="70.39" y2="577.7" stroke="#222" stroke-width="1.4"/>
<line x1="67.39" y1="583.5" x2="67.39" y2="603.3" stroke="#9a9a9a" stroke-width="1"/>
<line x1="64.39" y1="591" x2="70.39" y2="591" stroke="#222" stroke-width="1.4"/>
<line x1="64.39" y1="603.3" x2="70.39" y2="603.3" stroke="#222" stroke-width="1.4"/>
<line x1="82.78" y1="559.7" x2="82.78" y2="571.1" stroke="#9a9a9a" stroke-width="1"/>
<line x1="79.78" y1="571.1" x2="85.78" y2="571.1" stroke="#222" stroke-width="1.4"/>
<line x1="82.78" y1="576.5" x2="82.78" y2="589.3" stroke="#9a9a9a" stroke-width="1"/>
<line x1="79.78" y1="589.3" x2="85.78" y2="589.3" stroke="#222" stroke-width="1.4"/>
<line x1="98.17" y1="496" x2="98.17" y2="534" stroke="#9a9a9a" stroke-width="1"/>
<line x1="95.17" y1="496" x2="101.17" y2="496" stroke="#222" stroke-width="1.4"/>
<line x1="95.17" y1="534" x2="101.17" y2="534" stroke="#222" stroke-width="1.4"/>
<line x1="113.56" y1="440" x2="113.56" y2="469.6" stroke="#9a9a9a" stroke-width="1"/>
<line x1="110.56" y1="440" x2="116.56" y2="440" stroke="#222" stroke-width="1.4"/>
<line x1="110.56" y1="469.6" x2="116.56" y2="469.6" stroke="#222" stroke-width="1.4"/>
<line x1="128.95" y1="439.4" x2="128.95" y2="469.6" stroke="#9a9a9a" stroke-width="1"/>
<line x1="125.95" y1="439.4" x2="131.95" y2="439.4" stroke="#222" stroke-width="1.4"/>
<line x1="125.95" y1="469.6" x2="131.95" y2="469.6" stroke="#222" stroke-width="1.4"/>
<line x1="144.35" y1="453.7" x2="144.35" y2="475.1" stroke="#9a9a9a" stroke-width="1"/>
<line x1="141.35" y1="453.7" x2="147.35" y2="453.7" stroke="#222" stroke-width="1.4"/>
<line x1="141.35" y1="475.1" x2="147.35" y2="475.1" stroke="#222" stroke-width="1.4"/>
<line x1="159.74" y1="459.6" x2="159.74" y2="487" stroke="#9a9a9a" stroke-width="1"/>
<line x1="156.74" y1="459.6" x2="162.74" y2="459.6" stroke="#222" stroke-width="1.4"/>
<line x1="156.74" y1="466.9" x2="162.74" y2="466.9" stroke="#222" stroke-width="1.4"/>
<line x1="175.13" y1="460.5" x2="175.13" y2="474.6" stroke="#9a9a9a" stroke-width="1"/>
<line x1="172.13" y1="474.6" x2="178.13" y2="474.6" stroke="#222" stroke-width="1.4"/>
<line x1="190.52" y1="443.5" x2="190.52" y2="454.4" stroke="#9a9a9a" stroke-width="1"/>
<line x1="187.52" y1="454.4" x2="193.52" y2="454.4" stroke="#222" stroke-width="1.4"/>
<line x1="190.52" y1="521.3" x2="190.52" y2="537.5" stroke="#9a9a9a" stroke-width="1"/>
<line x1="187.52" y1="521.3" x2="193.52" y2="521.3" stroke="#222" stroke-width="1.4"/>
<line x1="187.52" y1="537.5" x2="193.52" y2="537.5" stroke="#222" stroke-width="1.4"/>
<line x1="175.13" y1="497" x2="175.13" y2="527" stroke="#9a9a9a" stroke-width="1"/>
<line x1="172.13" y1="497" x2="178.13" y2="497" stroke="#222" stroke-width="1.4"/>
<line x1="172.13" y1="527" x2="178.13" y2="527" stroke="#222" stroke-width="1.4"/>
<line x1="144.35" y1="510" x2="144.35" y2="546.5" stroke="#9a9a9a" stroke-width="1"/>
<line x1="141.35" y1="510" x2="147.35" y2="510" stroke="#222" stroke-width="1.4"/>
<line x1="141.35" y1="546.5" x2="147.35" y2="546.5" stroke="#222" stroke-width="1.4"/>
<rect x="52" y="394.4" width="169.3" height="239.9" fill="none" stroke="#2a2a2a" stroke-width="1.3"/>
<line x1="52" y1="604.31" x2="56" y2="604.31" stroke="#2a2a2a" stroke-width="1.1"/>
<line x1="52" y1="574.32" x2="56" y2="574.32" stroke="#2a2a2a" stroke-width="1.1"/>
<line x1="52" y1="544.34" x2="56" y2="544.34" stroke="#2a2a2a" stroke-width="1.1"/>
<line x1="52" y1="514.35" x2="56" y2="514.35" stroke="#2a2a2a" stroke-width="1.1"/>
<line x1="52" y1="484.36" x2="56" y2="484.36" stroke="#2a2a2a" stroke-width="1.1"/>
<line x1="52" y1="454.38" x2="56" y2="454.38" stroke="#2a2a2a" stroke-width="1.1"/>
<line x1="52" y1="424.39" x2="56" y2="424.39" stroke="#2a2a2a" stroke-width="1.1"/>
<line x1="217.3" y1="600.03" x2="221.3" y2="600.03" stroke="#2a2a2a" stroke-width="1.1"/>
<line x1="217.3" y1="565.76" x2="221.3" y2="565.76" stroke="#2a2a2a" stroke-width="1.1"/>
<line x1="217.3" y1="531.49" x2="221.3" y2="531.49" stroke="#2a2a2a" stroke-width="1.1"/>
<line x1="217.3" y1="497.21" x2="221.3" y2="497.21" stroke="#2a2a2a" stroke-width="1.1"/>
<line x1="217.3" y1="462.94" x2="221.3" y2="462.94" stroke="#2a2a2a" stroke-width="1.1"/>
<line x1="217.3" y1="428.67" x2="221.3" y2="428.67" stroke="#2a2a2a" stroke-width="1.1"/>
<line x1="67.39" y1="634.3" x2="67.39" y2="637.8" stroke="#2a2a2a" stroke-width="1.1"/>
<line x1="82.78" y1="634.3" x2="82.78" y2="637.8" stroke="#2a2a2a" stroke-width="1.1"/>
<line x1="98.17" y1="634.3" x2="98.17" y2="637.8" stroke="#2a2a2a" stroke-width="1.1"/>
<line x1="113.56" y1="634.3" x2="113.56" y2="637.8" stroke="#2a2a2a" stroke-width="1.1"/>
<line x1="128.95" y1="634.3" x2="128.95" y2="637.8" stroke="#2a2a2a" stroke-width="1.1"/>
<line x1="144.35" y1="634.3" x2="144.35" y2="637.8" stroke="#2a2a2a" stroke-width="1.1"/>
<line x1="159.74" y1="634.3" x2="159.74" y2="637.8" stroke="#2a2a2a" stroke-width="1.1"/>
<line x1="175.13" y1="634.3" x2="175.13" y2="637.8" stroke="#2a2a2a" stroke-width="1.1"/>
<line x1="190.52" y1="634.3" x2="190.52" y2="637.8" stroke="#2a2a2a" stroke-width="1.1"/>
<line x1="205.91" y1="634.3" x2="205.91" y2="637.8" stroke="#2a2a2a" stroke-width="1.1"/>
<line x1="221.3" y1="634.3" x2="221.3" y2="637.8" stroke="#2a2a2a" stroke-width="1.1"/>
<polyline points="52,634.3 67.39,595 82.78,617.9 98.17,633.5 113.56,630.7 128.95,632.2 144.35,634 159.74,634 175.13,633.5 190.52,633.5" fill="none" stroke="#111" stroke-width="2.4" stroke-linejoin="miter" stroke-miterlimit="3"/>
<polyline points="52,634.3 67.39,583.5 82.78,559.4 98.17,515.4 113.56,455 128.95,442.2 144.35,453.7 159.74,486.6 175.13,460.5 190.52,443.5" fill="none" stroke="#111" stroke-width="2.4" stroke-linejoin="miter" stroke-miterlimit="3"/>
<polyline points="52,634.3 67.39,552 82.78,576.8 98.17,584.1 113.56,593.2 128.95,606 144.35,546.5 159.74,427.5 175.13,526.8 190.52,521.3" fill="none" stroke="#111" stroke-width="2.4" stroke-linejoin="miter" stroke-miterlimit="3"/>
<rect x="48.25" y="630.55" width="7.5" height="7.5" fill="none" stroke="#8a8a8a" stroke-width="1"/>
<rect x="63.64" y="591.25" width="7.5" height="7.5" fill="none" stroke="#8a8a8a" stroke-width="1"/>
<rect x="79.03" y="614.15" width="7.5" height="7.5" fill="none" stroke="#8a8a8a" stroke-width="1"/>
<rect x="94.42" y="629.75" width="7.5" height="7.5" fill="none" stroke="#8a8a8a" stroke-width="1"/>
<rect x="109.81" y="626.95" width="7.5" height="7.5" fill="none" stroke="#8a8a8a" stroke-width="1"/>
<rect x="125.2" y="628.45" width="7.5" height="7.5" fill="none" stroke="#8a8a8a" stroke-width="1"/>
<rect x="140.6" y="630.25" width="7.5" height="7.5" fill="none" stroke="#8a8a8a" stroke-width="1"/>
<rect x="155.99" y="630.25" width="7.5" height="7.5" fill="none" stroke="#8a8a8a" stroke-width="1"/>
<rect x="171.38" y="629.75" width="7.5" height="7.5" fill="none" stroke="#8a8a8a" stroke-width="1"/>
<rect x="186.77" y="629.75" width="7.5" height="7.5" fill="none" stroke="#8a8a8a" stroke-width="1"/>
<circle cx="52" cy="634.3" r="4.2" fill="none" stroke="#222" stroke-width="1"/>
<circle cx="67.39" cy="583.5" r="4.2" fill="none" stroke="#222" stroke-width="1"/>
<circle cx="82.78" cy="559.4" r="4.2" fill="none" stroke="#222" stroke-width="1"/>
<circle cx="98.17" cy="515.4" r="4.2" fill="none" stroke="#222" stroke-width="1"/>
<circle cx="113.56" cy="455" r="4.2" fill="none" stroke="#222" stroke-width="1"/>
<circle cx="128.95" cy="442.2" r="4.2" fill="none" stroke="#222" stroke-width="1"/>
<circle cx="144.35" cy="453.7" r="4.2" fill="none" stroke="#222" stroke-width="1"/>
<circle cx="159.74" cy="486.6" r="4.2" fill="none" stroke="#222" stroke-width="1"/>
<circle cx="175.13" cy="460.5" r="4.2" fill="none" stroke="#222" stroke-width="1"/>
<circle cx="190.52" cy="443.5" r="4.2" fill="none" stroke="#222" stroke-width="1"/>
<path d="M52,629.8V638.8M48.1,632.05L55.9,636.55M48.1,636.55L55.9,632.05" stroke="#111" stroke-width="1.1" fill="none"/>
<path d="M67.39,547.5V556.5M63.49,549.75L71.29,554.25M63.49,554.25L71.29,549.75" stroke="#111" stroke-width="1.1" fill="none"/>
<path d="M82.78,572.3V581.3M78.88,574.55L86.68,579.05M78.88,579.05L86.68,574.55" stroke="#111" stroke-width="1.1" fill="none"/>
<path d="M98.17,579.6V588.6M94.28,581.85L102.07,586.35M94.28,586.35L102.07,581.85" stroke="#111" stroke-width="1.1" fill="none"/>
<path d="M113.56,588.7V597.7M109.67,590.95L117.46,595.45M109.67,595.45L117.46,590.95" stroke="#111" stroke-width="1.1" fill="none"/>
<path d="M128.95,601.5V610.5M125.06,603.75L132.85,608.25M125.06,608.25L132.85,603.75" stroke="#111" stroke-width="1.1" fill="none"/>
<path d="M144.35,542V551M140.45,544.25L148.24,548.75M140.45,548.75L148.24,544.25" stroke="#111" stroke-width="1.1" fill="none"/>
<path d="M159.74,423V432M155.84,425.25L163.63,429.75M155.84,429.75L163.63,425.25" stroke="#111" stroke-width="1.1" fill="none"/>
<path d="M175.13,522.3V531.3M171.23,524.55L179.02,529.05M171.23,529.05L179.02,524.55" stroke="#111" stroke-width="1.1" fill="none"/>
<path d="M190.52,516.8V525.8M186.62,519.05L194.42,523.55M186.62,523.55L194.42,519.05" stroke="#111" stroke-width="1.1" fill="none"/>
<text x="46" y="637.5" font-size="9" font-weight="bold" text-anchor="end" fill="#111" stroke="#111" stroke-width="0.2">0</text>
<text x="46" y="607.51" font-size="9" font-weight="bold" text-anchor="end" fill="#111" stroke="#111" stroke-width="0.2">500</text>
<text x="46" y="577.52" font-size="9" font-weight="bold" text-anchor="end" fill="#111" stroke="#111" stroke-width="0.2">1000</text>
<text x="46" y="547.54" font-size="9" font-weight="bold" text-anchor="end" fill="#111" stroke="#111" stroke-width="0.2">1500</text>
<text x="46" y="517.55" font-size="9" font-weight="bold" text-anchor="end" fill="#111" stroke="#111" stroke-width="0.2">2000</text>
<text x="46" y="487.56" font-size="9" font-weight="bold" text-anchor="end" fill="#111" stroke="#111" stroke-width="0.2">2500</text>
<text x="46" y="457.57" font-size="9" font-weight="bold" text-anchor="end" fill="#111" stroke="#111" stroke-width="0.2">3000</text>
<text x="46" y="427.59" font-size="9" font-weight="bold" text-anchor="end" fill="#111" stroke="#111" stroke-width="0.2">3500</text>
<text x="46" y="397.6" font-size="9" font-weight="bold" text-anchor="end" fill="#111" stroke="#111" stroke-width="0.2">4000</text>
<text x="227.3" y="637.5" font-size="9" font-weight="bold" text-anchor="start" fill="#111" stroke="#111" stroke-width="0.2">0</text>
<text x="227.3" y="603.23" font-size="9" font-weight="bold" text-anchor="start" fill="#111" stroke="#111" stroke-width="0.2">500</text>
<text x="227.3" y="568.96" font-size="9" font-weight="bold" text-anchor="start" fill="#111" stroke="#111" stroke-width="0.2">1000</text>
<text x="227.3" y="534.69" font-size="9" font-weight="bold" text-anchor="start" fill="#111" stroke="#111" stroke-width="0.2">1500</text>
<text x="227.3" y="500.41" font-size="9" font-weight="bold" text-anchor="start" fill="#111" stroke="#111" stroke-width="0.2">2000</text>
<text x="227.3" y="466.14" font-size="9" font-weight="bold" text-anchor="start" fill="#111" stroke="#111" stroke-width="0.2">2500</text>
<text x="227.3" y="431.87" font-size="9" font-weight="bold" text-anchor="start" fill="#111" stroke="#111" stroke-width="0.2">3000</text>
<text x="227.3" y="397.6" font-size="9" font-weight="bold" text-anchor="start" fill="#111" stroke="#111" stroke-width="0.2">3500</text>
<text x="52" y="648.8" font-size="9" font-weight="bold" text-anchor="middle" fill="#111" stroke="#111" stroke-width="0.2">0</text>
<text x="67.39" y="648.8" font-size="9" font-weight="bold" text-anchor="middle" fill="#111" stroke="#111" stroke-width="0.2">6</text>
<text x="82.78" y="648.8" font-size="9" font-weight="bold" text-anchor="middle" fill="#111" stroke="#111" stroke-width="0.2">14</text>
<text x="98.17" y="648.8" font-size="9" font-weight="bold" text-anchor="middle" fill="#111" stroke="#111" stroke-width="0.2">23</text>
<text x="113.56" y="648.8" font-size="9" font-weight="bold" text-anchor="middle" fill="#111" stroke="#111" stroke-width="0.2">33</text>
<text x="128.95" y="648.8" font-size="9" font-weight="bold" text-anchor="middle" fill="#111" stroke="#111" stroke-width="0.2">40</text>
<text x="144.35" y="648.8" font-size="9" font-weight="bold" text-anchor="middle" fill="#111" stroke="#111" stroke-width="0.2">49</text>
<text x="159.74" y="648.8" font-size="9" font-weight="bold" text-anchor="middle" fill="#111" stroke="#111" stroke-width="0.2">60</text>
<text x="175.13" y="648.8" font-size="9" font-weight="bold" text-anchor="middle" fill="#111" stroke="#111" stroke-width="0.2">68</text>
<text x="190.52" y="648.8" font-size="9" font-weight="bold" text-anchor="middle" fill="#111" stroke="#111" stroke-width="0.2">75</text>
<text x="205.91" y="648.8" font-size="9" font-weight="bold" text-anchor="middle" fill="#111" stroke="#111" stroke-width="0.2">80</text>
<polygon points="283.7,634.3 283.7,634.3 298.13,631 312.57,616.7 327,602 341.43,605 355.87,609 370.3,616 384.73,625 399.17,624 413.6,630 428.03,633.5 442.47,634.3 442.47,634.3" fill="url(#hatch)" stroke="#555" stroke-width="0.6"/>
<rect x="283.7" y="394.5" width="173.2" height="239.8" fill="none" stroke="#2a2a2a" stroke-width="1.3"/>
<line x1="283.7" y1="604.32" x2="287.7" y2="604.32" stroke="#2a2a2a" stroke-width="1.1"/>
<line x1="283.7" y1="574.35" x2="287.7" y2="574.35" stroke="#2a2a2a" stroke-width="1.1"/>
<line x1="283.7" y1="544.38" x2="287.7" y2="544.38" stroke="#2a2a2a" stroke-width="1.1"/>
<line x1="283.7" y1="514.4" x2="287.7" y2="514.4" stroke="#2a2a2a" stroke-width="1.1"/>
<line x1="283.7" y1="484.42" x2="287.7" y2="484.42" stroke="#2a2a2a" stroke-width="1.1"/>
<line x1="283.7" y1="454.45" x2="287.7" y2="454.45" stroke="#2a2a2a" stroke-width="1.1"/>
<line x1="283.7" y1="424.48" x2="287.7" y2="424.48" stroke="#2a2a2a" stroke-width="1.1"/>
<line x1="452.9" y1="600.04" x2="456.9" y2="600.04" stroke="#2a2a2a" stroke-width="1.1"/>
<line x1="452.9" y1="565.79" x2="456.9" y2="565.79" stroke="#2a2a2a" stroke-width="1.1"/>
<line x1="452.9" y1="531.53" x2="456.9" y2="531.53" stroke="#2a2a2a" stroke-width="1.1"/>
<line x1="452.9" y1="497.27" x2="456.9" y2="497.27" stroke="#2a2a2a" stroke-width="1.1"/>
<line x1="452.9" y1="463.01" x2="456.9" y2="463.01" stroke="#2a2a2a" stroke-width="1.1"/>
<line x1="452.9" y1="428.76" x2="456.9" y2="428.76" stroke="#2a2a2a" stroke-width="1.1"/>
<line x1="298.13" y1="634.3" x2="298.13" y2="637.8" stroke="#2a2a2a" stroke-width="1.1"/>
<line x1="312.57" y1="634.3" x2="312.57" y2="637.8" stroke="#2a2a2a" stroke-width="1.1"/>
<line x1="327" y1="634.3" x2="327" y2="637.8" stroke="#2a2a2a" stroke-width="1.1"/>
<line x1="341.43" y1="634.3" x2="341.43" y2="637.8" stroke="#2a2a2a" stroke-width="1.1"/>
<line x1="355.87" y1="634.3" x2="355.87" y2="637.8" stroke="#2a2a2a" stroke-width="1.1"/>
<line x1="370.3" y1="634.3" x2="370.3" y2="637.8" stroke="#2a2a2a" stroke-width="1.1"/>
<line x1="384.73" y1="634.3" x2="384.73" y2="637.8" stroke="#2a2a2a" stroke-width="1.1"/>
<line x1="399.17" y1="634.3" x2="399.17" y2="637.8" stroke="#2a2a2a" stroke-width="1.1"/>
<line x1="413.6" y1="634.3" x2="413.6" y2="637.8" stroke="#2a2a2a" stroke-width="1.1"/>
<line x1="428.03" y1="634.3" x2="428.03" y2="637.8" stroke="#2a2a2a" stroke-width="1.1"/>
<line x1="442.47" y1="634.3" x2="442.47" y2="637.8" stroke="#2a2a2a" stroke-width="1.1"/>
<line x1="456.9" y1="634.3" x2="456.9" y2="637.8" stroke="#2a2a2a" stroke-width="1.1"/>
<polyline points="283.7,634.3 298.13,594.3 312.57,582.9 327,580.9 341.43,510.5 355.87,487.7 370.3,514.5 384.73,493 399.17,530 413.6,553 428.03,532.5 442.47,556" fill="none" stroke="#111" stroke-width="2.4" stroke-linejoin="miter" stroke-miterlimit="3"/>
<polyline points="283.7,634.3 298.13,608 312.57,551.7 327,549.3 341.43,487 355.87,460.4 370.3,469 384.73,552 399.17,519.5 413.6,539.2 428.03,530 442.47,551.7" fill="none" stroke="#111" stroke-width="2.4" stroke-linejoin="miter" stroke-miterlimit="3"/>
<polyline points="283.7,634.3 298.13,582.9 312.57,524.7 327,544.4 341.43,438.2 355.87,441.7 370.3,504.6 384.73,532 399.17,573.5 413.6,529.2 428.03,488 442.47,537.5" fill="none" stroke="#111" stroke-width="2.4" stroke-linejoin="miter" stroke-miterlimit="3"/>
<rect x="279.95" y="630.55" width="7.5" height="7.5" fill="none" stroke="#8a8a8a" stroke-width="1"/>
<rect x="294.38" y="590.55" width="7.5" height="7.5" fill="none" stroke="#8a8a8a" stroke-width="1"/>
<rect x="308.82" y="579.15" width="7.5" height="7.5" fill="none" stroke="#8a8a8a" stroke-width="1"/>
<rect x="323.25" y="577.15" width="7.5" height="7.5" fill="none" stroke="#8a8a8a" stroke-width="1"/>
<rect x="337.68" y="506.75" width="7.5" height="7.5" fill="none" stroke="#8a8a8a" stroke-width="1"/>
<rect x="352.12" y="483.95" width="7.5" height="7.5" fill="none" stroke="#8a8a8a" stroke-width="1"/>
<rect x="366.55" y="510.75" width="7.5" height="7.5" fill="none" stroke="#8a8a8a" stroke-width="1"/>
<rect x="380.98" y="489.25" width="7.5" height="7.5" fill="none" stroke="#8a8a8a" stroke-width="1"/>
<rect x="395.42" y="526.25" width="7.5" height="7.5" fill="none" stroke="#8a8a8a" stroke-width="1"/>
<rect x="409.85" y="549.25" width="7.5" height="7.5" fill="none" stroke="#8a8a8a" stroke-width="1"/>
<rect x="424.28" y="528.75" width="7.5" height="7.5" fill="none" stroke="#8a8a8a" stroke-width="1"/>
<rect x="438.72" y="552.25" width="7.5" height="7.5" fill="none" stroke="#8a8a8a" stroke-width="1"/>
<circle cx="283.7" cy="634.3" r="4.2" fill="none" stroke="#222" stroke-width="1"/>
<circle cx="298.13" cy="608" r="4.2" fill="none" stroke="#222" stroke-width="1"/>
<circle cx="312.57" cy="551.7" r="4.2" fill="none" stroke="#222" stroke-width="1"/>
<circle cx="327" cy="549.3" r="4.2" fill="none" stroke="#222" stroke-width="1"/>
<circle cx="341.43" cy="487" r="4.2" fill="none" stroke="#222" stroke-width="1"/>
<circle cx="355.87" cy="460.4" r="4.2" fill="none" stroke="#222" stroke-width="1"/>
<circle cx="370.3" cy="469" r="4.2" fill="none" stroke="#222" stroke-width="1"/>
<circle cx="384.73" cy="552" r="4.2" fill="none" stroke="#222" stroke-width="1"/>
<circle cx="399.17" cy="519.5" r="4.2" fill="none" stroke="#222" stroke-width="1"/>
<circle cx="413.6" cy="539.2" r="4.2" fill="none" stroke="#222" stroke-width="1"/>
<circle cx="428.03" cy="530" r="4.2" fill="none" stroke="#222" stroke-width="1"/>
<circle cx="442.47" cy="551.7" r="4.2" fill="none" stroke="#222" stroke-width="1"/>
<path d="M283.7,629.8V638.8M279.8,632.05L287.6,636.55M279.8,636.55L287.6,632.05" stroke="#111" stroke-width="1.1" fill="none"/>
<path d="M298.13,578.4V587.4M294.24,580.65L302.03,585.15M294.24,585.15L302.03,580.65" stroke="#111" stroke-width="1.1" fill="none"/>
<path d="M312.57,520.2V529.2M308.67,522.45L316.46,526.95M308.67,526.95L316.46,522.45" stroke="#111" stroke-width="1.1" fill="none"/>
<path d="M327,539.9V548.9M323.1,542.15L330.9,546.65M323.1,546.65L330.9,542.15" stroke="#111" stroke-width="1.1" fill="none"/>
<path d="M341.43,433.7V442.7M337.54,435.95L345.33,440.45M337.54,440.45L345.33,435.95" stroke="#111" stroke-width="1.1" fill="none"/>
<path d="M355.87,437.2V446.2M351.97,439.45L359.76,443.95M351.97,443.95L359.76,439.45" stroke="#111" stroke-width="1.1" fill="none"/>
<path d="M370.3,500.1V509.1M366.4,502.35L374.2,506.85M366.4,506.85L374.2,502.35" stroke="#111" stroke-width="1.1" fill="none"/>
<path d="M384.73,527.5V536.5M380.84,529.75L388.63,534.25M380.84,534.25L388.63,529.75" stroke="#111" stroke-width="1.1" fill="none"/>
<path d="M399.17,569V578M395.27,571.25L403.06,575.75M395.27,575.75L403.06,571.25" stroke="#111" stroke-width="1.1" fill="none"/>
<path d="M413.6,524.7V533.7M409.7,526.95L417.5,531.45M409.7,531.45L417.5,526.95" stroke="#111" stroke-width="1.1" fill="none"/>
<path d="M428.03,483.5V492.5M424.14,485.75L431.93,490.25M424.14,490.25L431.93,485.75" stroke="#111" stroke-width="1.1" fill="none"/>
<path d="M442.47,533V542M438.57,535.25L446.36,539.75M438.57,539.75L446.36,535.25" stroke="#111" stroke-width="1.1" fill="none"/>
<text x="277.7" y="637.5" font-size="9" font-weight="bold" text-anchor="end" fill="#111" stroke="#111" stroke-width="0.2">0</text>
<text x="277.7" y="607.52" font-size="9" font-weight="bold" text-anchor="end" fill="#111" stroke="#111" stroke-width="0.2">500</text>
<text x="277.7" y="577.55" font-size="9" font-weight="bold" text-anchor="end" fill="#111" stroke="#111" stroke-width="0.2">1000</text>
<text x="277.7" y="547.58" font-size="9" font-weight="bold" text-anchor="end" fill="#111" stroke="#111" stroke-width="0.2">1500</text>
<text x="277.7" y="517.6" font-size="9" font-weight="bold" text-anchor="end" fill="#111" stroke="#111" stroke-width="0.2">2000</text>
<text x="277.7" y="487.62" font-size="9" font-weight="bold" text-anchor="end" fill="#111" stroke="#111" stroke-width="0.2">2500</text>
<text x="277.7" y="457.65" font-size="9" font-weight="bold" text-anchor="end" fill="#111" stroke="#111" stroke-width="0.2">3000</text>
<text x="277.7" y="427.68" font-size="9" font-weight="bold" text-anchor="end" fill="#111" stroke="#111" stroke-width="0.2">3500</text>
<text x="277.7" y="397.7" font-size="9" font-weight="bold" text-anchor="end" fill="#111" stroke="#111" stroke-width="0.2">4000</text>
<text x="462.9" y="637.5" font-size="9" font-weight="bold" text-anchor="start" fill="#111" stroke="#111" stroke-width="0.2">0</text>
<text x="462.9" y="603.24" font-size="9" font-weight="bold" text-anchor="start" fill="#111" stroke="#111" stroke-width="0.2">500</text>
<text x="462.9" y="568.99" font-size="9" font-weight="bold" text-anchor="start" fill="#111" stroke="#111" stroke-width="0.2">1000</text>
<text x="462.9" y="534.73" font-size="9" font-weight="bold" text-anchor="start" fill="#111" stroke="#111" stroke-width="0.2">1500</text>
<text x="462.9" y="500.47" font-size="9" font-weight="bold" text-anchor="start" fill="#111" stroke="#111" stroke-width="0.2">2000</text>
<text x="462.9" y="466.21" font-size="9" font-weight="bold" text-anchor="start" fill="#111" stroke="#111" stroke-width="0.2">2500</text>
<text x="462.9" y="431.96" font-size="9" font-weight="bold" text-anchor="start" fill="#111" stroke="#111" stroke-width="0.2">3000</text>
<text x="462.9" y="397.7" font-size="9" font-weight="bold" text-anchor="start" fill="#111" stroke="#111" stroke-width="0.2">3500</text>
<text x="283.7" y="648.8" font-size="9" font-weight="bold" text-anchor="middle" fill="#111" stroke="#111" stroke-width="0.2">0</text>
<text x="298.13" y="648.8" font-size="9" font-weight="bold" text-anchor="middle" fill="#111" stroke="#111" stroke-width="0.2">8</text>
<text x="312.57" y="648.8" font-size="9" font-weight="bold" text-anchor="middle" fill="#111" stroke="#111" stroke-width="0.2">18</text>
<text x="327" y="648.8" font-size="9" font-weight="bold" text-anchor="middle" fill="#111" stroke="#111" stroke-width="0.2">25</text>
<text x="341.43" y="648.8" font-size="9" font-weight="bold" text-anchor="middle" fill="#111" stroke="#111" stroke-width="0.2">29</text>
<text x="355.87" y="648.8" font-size="9" font-weight="bold" text-anchor="middle" fill="#111" stroke="#111" stroke-width="0.2">34</text>
<text x="370.3" y="648.8" font-size="9" font-weight="bold" text-anchor="middle" fill="#111" stroke="#111" stroke-width="0.2">39</text>
<text x="384.73" y="648.8" font-size="9" font-weight="bold" text-anchor="middle" fill="#111" stroke="#111" stroke-width="0.2">48</text>
<text x="399.17" y="648.8" font-size="9" font-weight="bold" text-anchor="middle" fill="#111" stroke="#111" stroke-width="0.2">53</text>
<text x="413.6" y="648.8" font-size="9" font-weight="bold" text-anchor="middle" fill="#111" stroke="#111" stroke-width="0.2">60</text>
<text x="428.03" y="648.8" font-size="9" font-weight="bold" text-anchor="middle" fill="#111" stroke="#111" stroke-width="0.2">67</text>
<text x="442.47" y="648.8" font-size="9" font-weight="bold" text-anchor="middle" fill="#111" stroke="#111" stroke-width="0.2">76</text>
<text x="456.9" y="648.8" font-size="9" font-weight="bold" text-anchor="middle" fill="#111" stroke="#111" stroke-width="0.2">80</text>
<text x="0.3" y="17.8" font-size="25" font-weight="bold" text-anchor="start" fill="#111" >A</text>
<text x="262.3" y="17.7" font-size="25" font-weight="bold" text-anchor="start" fill="#111" >B</text>
<text x="-0.4" y="385.5" font-size="25" font-weight="bold" text-anchor="start" fill="#111" >C</text>
<text x="262" y="385.6" font-size="25" font-weight="bold" text-anchor="start" fill="#111" >D</text>
<text x="178.8" y="46.8" font-size="14" font-weight="normal" text-anchor="start" fill="#111" stroke="#111" stroke-width="0.35">PR-1</text>
<text x="412" y="46.4" font-size="14" font-weight="normal" text-anchor="start" fill="#111" stroke="#111" stroke-width="0.35">PR-7</text>
<text x="177.5" y="415.2" font-size="14" font-weight="normal" text-anchor="start" fill="#111" stroke="#111" stroke-width="0.35">PR-10</text>
<text x="402.3" y="415.3" font-size="14.2" font-weight="normal" text-anchor="start" fill="#111" stroke="#111" stroke-width="0.35">PR-12</text>
<text x="135.8" y="299.8" font-size="12.3" font-weight="normal" text-anchor="middle" fill="#111" stroke="#111" stroke-width="0.3">days of culture</text>
<text x="379.7" y="299" font-size="12.5" font-weight="bold" text-anchor="middle" fill="#111" >days of culture</text>
<text x="136.7" y="668.5" font-size="12.5" font-weight="bold" text-anchor="middle" fill="#111" >days of culture</text>
<text x="370.3" y="668.5" font-size="12.5" font-weight="bold" text-anchor="middle" fill="#111" >days of culture</text>
<text x="0" y="0" font-size="12.3" font-weight="bold" text-anchor="middle" fill="#111" transform="translate(11.8,144.2) rotate(-90)" xml:space="preserve">chemokine secretion  (pg/ml)</text>
<text x="0" y="0" font-size="12.45" font-weight="bold" text-anchor="middle" fill="#111" transform="translate(12.2,513.6) rotate(-90)" xml:space="preserve">chemokine secretion (pg/ml)</text>
<text x="0" y="0" font-size="12.7" font-weight="bold" text-anchor="middle" fill="#111" transform="translate(509.2,143.3) rotate(90)">p24 Ag (pg/ml)</text>
<text x="0" y="0" font-size="12.8" font-weight="bold" text-anchor="middle" fill="#111" transform="translate(497.6,509.6) rotate(90)">p24 Ag (pg/ml)</text>
<rect x="49" y="310.5" width="173.8" height="28.7" fill="#fff" stroke="#555" stroke-width="1"/>
<rect x="52.5" y="314.4" width="7" height="6.4" fill="none" stroke="#888" stroke-width="1"/>
<line x1="51" y1="317.6" x2="61" y2="317.6" stroke="#111" stroke-width="2"/>
<text x="62.3" y="320.8" font-size="9.2" font-weight="bold" text-anchor="start" fill="#111" stroke="#111" stroke-width="0.15" word-spacing="2.3">MIP-1<tspan font-size="9.6">&#945;</tspan></text>
<line x1="106" y1="317.6" x2="115.5" y2="317.6" stroke="#111" stroke-width="2"/>
<line x1="106.8" y1="315.2" x2="106.8" y2="320" stroke="#111" stroke-width="1.4"/>
<line x1="114.7" y1="315.2" x2="114.7" y2="320" stroke="#111" stroke-width="1.4"/>
<text x="116.2" y="320.8" font-size="9.2" font-weight="bold" text-anchor="start" fill="#111" stroke="#111" stroke-width="0.15" word-spacing="2.3">MIP-1<tspan font-family="Liberation Serif" font-weight="normal" font-size="10">&#946;</tspan></text>
<line x1="51.5" y1="331.6" x2="60.5" y2="331.6" stroke="#111" stroke-width="2"/>
<path d="M56,328.4V334.8M53.23,330L58.77,333.2M53.23,333.2L58.77,330" stroke="#111" stroke-width="1.1" fill="none"/>
<text x="62.3" y="334.8" font-size="9.2" font-weight="bold" text-anchor="start" fill="#111" stroke="#111" stroke-width="0.15" word-spacing="2.3">RANTES</text>
<rect x="107" y="328.6" width="8" height="6" fill="url(#hatch)" stroke="#777" stroke-width="0.8"/>
<text x="116.2" y="334.8" font-size="9.2" font-weight="bold" text-anchor="start" fill="#111" stroke="#111" stroke-width="0.15" word-spacing="2.3">HTLV-II expression</text>
<rect x="277.7" y="309.6" width="198.7" height="28.5" fill="#fff" stroke="#555" stroke-width="1"/>
<rect x="280.5" y="312.9" width="7" height="6.4" fill="none" stroke="#888" stroke-width="1"/>
<line x1="279" y1="316.1" x2="289" y2="316.1" stroke="#111" stroke-width="2"/>
<text x="290.9" y="319.3" font-size="9.2" font-weight="bold" text-anchor="start" fill="#111" stroke="#111" stroke-width="0.15" word-spacing="0">MIP-1<tspan font-size="9.6">&#945;</tspan></text>
<line x1="331" y1="316.1" x2="340.5" y2="316.1" stroke="#111" stroke-width="2"/>
<line x1="331.8" y1="313.7" x2="331.8" y2="318.5" stroke="#111" stroke-width="1.4"/>
<line x1="339.7" y1="313.7" x2="339.7" y2="318.5" stroke="#111" stroke-width="1.4"/>
<text x="341.6" y="319.3" font-size="9.2" font-weight="bold" text-anchor="start" fill="#111" stroke="#111" stroke-width="0.15" word-spacing="0">MIP-1<tspan font-family="Liberation Serif" font-weight="normal" font-size="10">&#946;</tspan></text>
<line x1="399.5" y1="316.1" x2="408.5" y2="316.1" stroke="#111" stroke-width="2"/>
<path d="M404,312.9V319.3M401.23,314.5L406.77,317.7M401.23,317.7L406.77,314.5" stroke="#111" stroke-width="1.1" fill="none"/>
<text x="409.8" y="319.3" font-size="9.2" font-weight="bold" text-anchor="start" fill="#111" stroke="#111" stroke-width="0.15" word-spacing="0">RANTES</text>
<rect x="280" y="327.6" width="8" height="6" fill="url(#dots)" stroke="#777" stroke-width="0.8"/>
<text x="290.9" y="333.8" font-size="9.2" font-weight="bold" text-anchor="start" fill="#111" stroke="#111" stroke-width="0.15" word-spacing="0">HIV exp</text>
<rect x="332" y="327.6" width="8" height="6" fill="url(#hatch)" stroke="#777" stroke-width="0.8"/>
<text x="341.6" y="333.8" font-size="9.2" font-weight="bold" text-anchor="start" fill="#111" stroke="#111" stroke-width="0.15" word-spacing="0">HTLV-II exp</text>
<rect x="44.2" y="676.3" width="182.5" height="29.4" fill="#fff" stroke="#555" stroke-width="1"/>
<rect x="47.3" y="680.2" width="7" height="6.4" fill="none" stroke="#888" stroke-width="1"/>
<line x1="45.8" y1="683.4" x2="55.8" y2="683.4" stroke="#111" stroke-width="2"/>
<text x="57.6" y="686.6" font-size="9.2" font-weight="bold" text-anchor="start" fill="#111" stroke="#111" stroke-width="0.15" word-spacing="0">MIP-1<tspan font-size="9.6">&#945;</tspan></text>
<line x1="97.8" y1="683.4" x2="107.3" y2="683.4" stroke="#111" stroke-width="2"/>
<line x1="98.6" y1="681" x2="98.6" y2="685.8" stroke="#111" stroke-width="1.4"/>
<line x1="106.5" y1="681" x2="106.5" y2="685.8" stroke="#111" stroke-width="1.4"/>
<text x="108.6" y="686.6" font-size="9.2" font-weight="bold" text-anchor="start" fill="#111" stroke="#111" stroke-width="0.15" word-spacing="0">MIP-1<tspan font-family="Liberation Serif" font-weight="normal" font-size="10">&#946;</tspan></text>
<line x1="166.3" y1="683.4" x2="175.3" y2="683.4" stroke="#111" stroke-width="2"/>
<path d="M170.8,680.2V686.6M168.03,681.8L173.57,685M168.03,685L173.57,681.8" stroke="#111" stroke-width="1.1" fill="none"/>
<text x="176.8" y="686.6" font-size="9.2" font-weight="bold" text-anchor="start" fill="#111" stroke="#111" stroke-width="0.15" word-spacing="0">RANTES</text>
<rect x="46.8" y="695.1" width="8" height="6" fill="url(#dots)" stroke="#777" stroke-width="0.8"/>
<text x="57.6" y="701.3" font-size="9.2" font-weight="bold" text-anchor="start" fill="#111" stroke="#111" stroke-width="0.15" word-spacing="0">HIV exp</text>
<rect x="98.8" y="695.1" width="8" height="6" fill="url(#hatch)" stroke="#777" stroke-width="0.8"/>
<text x="108.6" y="701.3" font-size="9.2" font-weight="bold" text-anchor="start" fill="#111" stroke="#111" stroke-width="0.15" word-spacing="0">HTLV-II exp</text>
<rect x="284.3" y="677.5" width="174.2" height="29.7" fill="#fff" stroke="#555" stroke-width="1"/>
<rect x="287.3" y="681.3" width="7" height="6.4" fill="none" stroke="#888" stroke-width="1"/>
<line x1="285.8" y1="684.5" x2="295.8" y2="684.5" stroke="#111" stroke-width="2"/>
<text x="297.6" y="687.7" font-size="9.2" font-weight="bold" text-anchor="start" fill="#111" stroke="#111" stroke-width="0.15" word-spacing="0">MIP-1<tspan font-size="9.6">&#945;</tspan></text>
<line x1="337.8" y1="684.5" x2="347.3" y2="684.5" stroke="#111" stroke-width="2"/>
<line x1="338.6" y1="682.1" x2="338.6" y2="686.9" stroke="#111" stroke-width="1.4"/>
<line x1="346.5" y1="682.1" x2="346.5" y2="686.9" stroke="#111" stroke-width="1.4"/>
<text x="348.6" y="687.7" font-size="9.2" font-weight="bold" text-anchor="start" fill="#111" stroke="#111" stroke-width="0.15" word-spacing="0">MIP-1<tspan font-family="Liberation Serif" font-weight="normal" font-size="10">&#946;</tspan></text>
<line x1="406.3" y1="684.5" x2="415.3" y2="684.5" stroke="#111" stroke-width="2"/>
<path d="M410.8,681.3V687.7M408.03,682.9L413.57,686.1M408.03,686.1L413.57,682.9" stroke="#111" stroke-width="1.1" fill="none"/>
<text x="416.5" y="687.7" font-size="9.2" font-weight="bold" text-anchor="start" fill="#111" stroke="#111" stroke-width="0.15" word-spacing="0">RANTES</text>
<rect x="286.8" y="696.2" width="8" height="6" fill="url(#dots)" stroke="#777" stroke-width="0.8"/>
<text x="297.6" y="702.4" font-size="9.2" font-weight="bold" text-anchor="start" fill="#111" stroke="#111" stroke-width="0.15" word-spacing="0">HIV exp</text>
<rect x="338.8" y="696.2" width="8" height="6" fill="url(#hatch)" stroke="#777" stroke-width="0.8"/>
<text x="348.6" y="702.4" font-size="9.2" font-weight="bold" text-anchor="start" fill="#111" stroke="#111" stroke-width="0.15" word-spacing="0">HTLV-II exp</text>
</svg></body></html>
